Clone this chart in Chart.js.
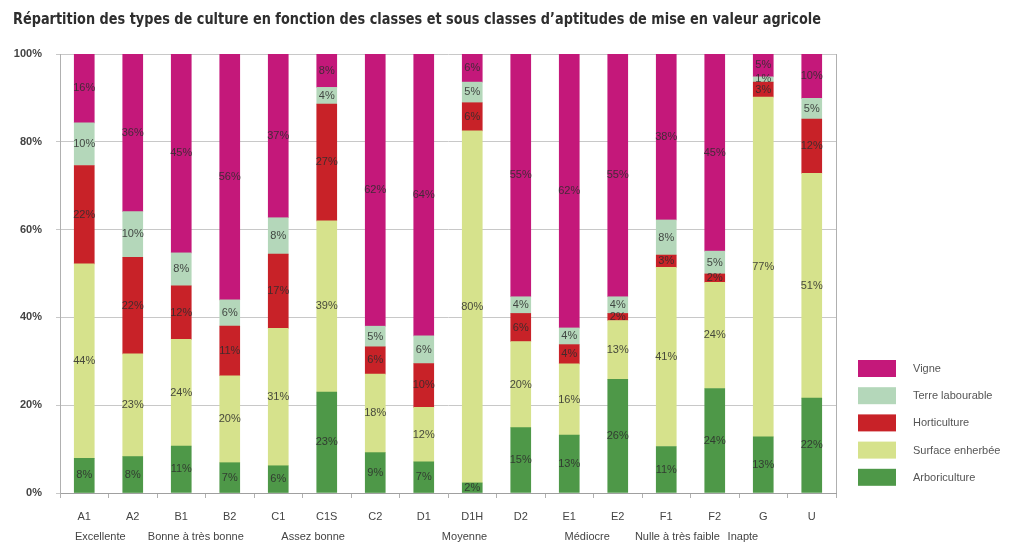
<!DOCTYPE html>
<html lang="fr">
<head>
<meta charset="utf-8">
<title>Types de culture</title>
<script src="https://cdn.jsdelivr.net/npm/chart.js@4.4.1/dist/chart.umd.min.js"></script>
<style>
  body { margin: 0; background: #fff; }
  #graf { display: block; }
</style>
</head>
<body>
<canvas id="graf" width="1024" height="544"></canvas>
<script>
// classes et sous classes d'aptitude
const classes = ['A1', 'A2', 'B1', 'B2', 'C1', 'C1S', 'C2', 'D1', 'D1H', 'D2', 'E1', 'E2', 'F1', 'F2', 'G', 'U']
const groupes = ['Excellente', 'Bonne à très bonne', 'Assez bonne', 'Moyenne', 'Médiocre', 'Nulle à très faible', 'Inapte']
const graduations = [0, 20, 40, 60, 80, 100]

// parts en % (du bas vers le haut de chaque barre)
const arboriculture = [7.9, 8.3, 10.7, 6.9, 6.2, 23.0, 9.2, 7.1, 2.3, 14.9, 13.2, 25.9, 10.6, 23.8, 12.8, 21.6]
const surfaceEnherbee = [44.3, 23.4, 24.3, 19.8, 31.3, 39.0, 17.9, 12.4, 80.2, 19.6, 16.2, 13.4, 40.8, 24.2, 77.4, 51.2]
const horticulture = [22.4, 22.0, 12.2, 11.3, 16.9, 26.6, 6.2, 10.0, 6.4, 6.4, 4.4, 1.6, 2.8, 1.9, 3.4, 12.4]
const terreLabourable = [9.7, 10.4, 7.5, 6.0, 8.3, 3.8, 4.7, 6.3, 4.7, 3.8, 3.8, 3.8, 8.0, 5.2, 1.2, 4.7]
const vigne = [15.7, 35.9, 45.3, 56.0, 37.3, 7.6, 62.0, 64.2, 6.4, 55.3, 62.4, 55.3, 37.8, 44.9, 5.2, 10.1]

// ancrage des libelles de groupe sous l'axe (en indice de classe)
const ancrageGroupes = [0.33, 2.3, 4.72, 7.84, 10.37, 12.23, 13.58]

const couleurs = {
    vigne: 'rgb(196, 24, 122)',
    terre: 'rgb(180, 215, 186)',
    horti: 'rgb(200, 34, 40)',
    surface: 'rgb(214, 226, 140)',
    arbo: 'rgb(78, 152, 72)'
}

const titre = 'Répartition des types de culture en fonction des classes et sous classes d\u2019aptitudes de mise en valeur agricole'

// valeurs au centre de chaque segment
const etiquettes = {
    id: 'etiquettes',
    afterDatasetsDraw(chart) {
        const ctx = chart.ctx
        ctx.save()
        ctx.font = '11px "Liberation Sans", Arial, sans-serif'
        ctx.textAlign = 'center'
        ctx.textBaseline = 'middle'
        ctx.fillStyle = 'rgba(45, 45, 45, 0.85)'
        chart.data.datasets.forEach((ds, i) => {
            const meta = chart.getDatasetMeta(i)
            meta.data.forEach((bar, j) => {
                const v = ds.data[j]
                ctx.fillText(Math.round(v) + '%', bar.x, (bar.y + bar.base) / 2)
            })
        })
        ctx.restore()
    }
}

// titre, cadre droit, groupes et legende
const decor = {
    id: 'decor',
    afterDraw(chart) {
        const ctx = chart.ctx
        const area = chart.chartArea
        const x = chart.scales.x
        ctx.save()

        ctx.strokeStyle = '#b0b0b0'
        ctx.lineWidth = 1
        ctx.beginPath()
        ctx.moveTo(area.right + 0.5, area.top)
        ctx.lineTo(area.right + 0.5, area.bottom)
        ctx.stroke()

        ctx.fillStyle = '#2e2e2e'
        ctx.font = '600 15px "DejaVu Sans Condensed", "DejaVu Sans", sans-serif'
        ctx.textBaseline = 'middle'
        ctx.textAlign = 'left'
        const ancho = ctx.measureText(titre).width
        ctx.translate(13, 20)
        ctx.scale(808 / ancho, 1)
        ctx.fillText(titre, 0, 0)
        ctx.setTransform(1, 0, 0, 1, 0, 0)

        ctx.font = '11px "Liberation Sans", Arial, sans-serif'
        ctx.fillStyle = '#444'
        ctx.textAlign = 'center'
        groupes.forEach((g, i) => {
            ctx.fillText(g, x.getPixelForValue(ancrageGroupes[i]), 537)
        })

        const items = [
            ['Vigne', couleurs.vigne],
            ['Terre labourable', couleurs.terre],
            ['Horticulture', couleurs.horti],
            ['Surface enherbée', couleurs.surface],
            ['Arboriculture', couleurs.arbo]
        ]
        ctx.textAlign = 'left'
        ctx.fillStyle = '#555'
        items.forEach((it, i) => {
            const y = 360 + i * 27.2
            ctx.fillStyle = it[1]
            ctx.fillRect(area.right + 22, y, 38, 17)
            ctx.fillStyle = '#555'
            ctx.fillText(it[0], area.right + 77, y + 9)
        })
        ctx.restore()
    }
}

function generar_grafico() {
    const data = {
        labels: classes,
        datasets: [
            { label: 'Arboriculture', data: arboriculture, backgroundColor: couleurs.arbo },
            { label: 'Surface enherbée', data: surfaceEnherbee, backgroundColor: couleurs.surface },
            { label: 'Horticulture', data: horticulture, backgroundColor: couleurs.horti },
            { label: 'Terre labourable', data: terreLabourable, backgroundColor: couleurs.terre },
            { label: 'Vigne', data: vigne, backgroundColor: couleurs.vigne }
        ]
    }

    const config = {
        type: 'bar',
        data: data,
        options: {
            responsive: false,
            animation: false,
            barThickness: 20,
            layout: { padding: { top: 54, right: 188, left: 0, bottom: 0 } },
            plugins: {
                legend: { display: false },
                tooltip: { enabled: false }
            },
            scales: {
                x: {
                    stacked: true,
                    afterFit: (s) => { s.height = 51 },
                    grid: { drawOnChartArea: false, tickLength: 5, color: '#b0b0b0' },
                    border: { color: '#a0a0a0' },
                    ticks: {
                        padding: 12,
                        color: '#444',
                        font: { family: '"Liberation Sans", Arial, sans-serif', size: 11 }
                    }
                },
                y: {
                    stacked: true,
                    min: 0,
                    max: 100,
                    afterFit: (s) => { s.width = 60 },
                    afterBuildTicks: (s) => { s.ticks = graduations.map(v => ({ value: v })) },
                    grid: { color: '#c8c8c8', tickLength: 4 },
                    border: { color: '#b0b0b0' },
                    ticks: {
                        padding: 14,
                        color: '#444',
                        font: { family: '"Liberation Sans", Arial, sans-serif', size: 11, weight: 'bold' },
                        callback: (v) => v + '%'
                    }
                }
            }
        },
        plugins: [etiquettes, decor]
    }

    return new Chart(document.getElementById('graf'), config)
}

generar_grafico()
</script>
</body>
</html>
